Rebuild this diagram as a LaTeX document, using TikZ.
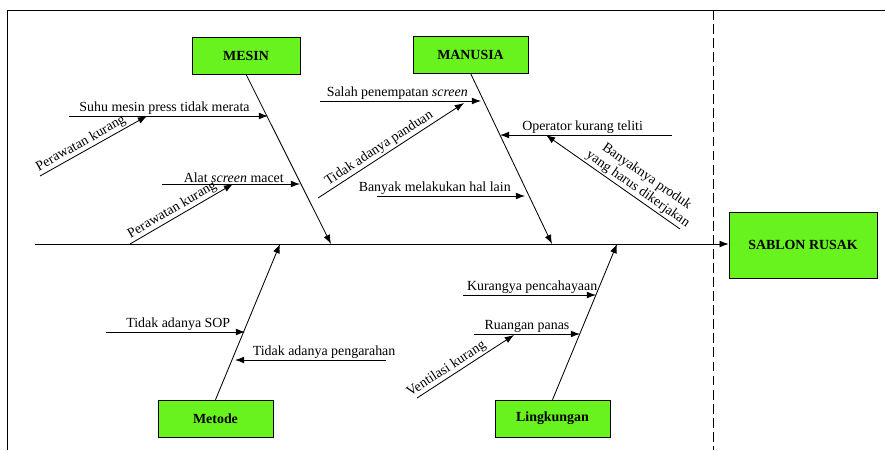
\documentclass[tikz,border=0pt]{standalone}
\usepackage{fontspec}
\setmainfont{Liberation Serif}
\usetikzlibrary{positioning,arrows.meta,calc}
\definecolor{fishgreen}{RGB}{104,242,30}

\begin{document}
\begin{tikzpicture}[
    x=0.025cm, y=0.025cm,
    font=\fontsize{9.9}{11}\selectfont,
    cat/.style={draw, fill=fishgreen, minimum width=28.75mm, minimum height=9.25mm,
                inner sep=0pt, font=\fontsize{9.9}{11}\selectfont\bfseries},
    bone/.style={-{Latex[length=2.3mm,width=1.7mm]}, line width=0.6pt},
    lbl/.style={inner sep=1pt},
]
\useasboundingbox (0,0) rectangle (885,450);
% ---------------- frame and spine ----------------
\draw[line width=0.6pt] (7,0) -- (7,440) -- (885,440);
\draw[line width=0.6pt, dash pattern=on 7pt off 3pt] (713,440) -- (713,0);
\node[cat, minimum width=37mm, minimum height=16.5mm] (effect) at (803,205) {SABLON RUSAK};
\coordinate (tail) at (35,206);
\draw[bone] (tail) -- (tail -| effect.west);

% ---------------- categories ----------------
\node[cat, minimum width=27mm] (mesin) at (246,394.5) {MESIN};
\node[cat] (manusia) at (470.5,395.5) {MANUSIA};
\node[cat] (metode) at (215.5,31.5) {Metode};
\node[cat] (lingkungan) at (552.5,31.5) {Lingkungan};
\coordinate (jmes) at (331,206);
\coordinate (jman) at (552,206);
\coordinate (jmet) at (280,206);
\coordinate (jlin) at (617,206);
\draw[bone] (mesin.south) -- (jmes);
\draw[bone] (manusia.south) -- (jman);
\draw[bone] (metode.north) -- (jmet);
\draw[bone] (lingkungan.north) -- (jlin);

% ---------------- MESIN ----------------
\coordinate (suhu0) at (69,334);   \coordinate (suhu1) at (268,334);
\coordinate (rawa0) at (40,274);   \coordinate (rawa1) at (147,334);
\coordinate (alat0) at (162,266);  \coordinate (alat1) at (300,266);
\coordinate (rawb0) at (130,206);  \coordinate (rawb1) at (233,266);
\draw[bone] (suhu0) -- node[lbl, above, pos=0.48] (suhu) {Suhu mesin press tidak merata} (suhu1);
\draw[bone] (rawa0) -- node[lbl, above, sloped, pos=0.42] (rawa) {Perawatan kurang} (rawa1);
\draw[bone] (alat0) -- node[lbl, above, pos=0.52] (alat) {Alat \textit{screen} macet} (alat1);
\draw[bone] (rawb0) -- node[lbl, above, sloped, pos=0.45] (rawb) {Perawatan kurang} (rawb1);

% ---------------- MANUSIA ----------------
\coordinate (salah0) at (320,349); \coordinate (salah1) at (481,349);
\coordinate (pand0) at (318,252);  \coordinate (pand1) at (464,347);
\coordinate (hal0) at (377,254);   \coordinate (hal1) at (525,254);
\coordinate (oper0) at (672,315);  \coordinate (oper1) at (500,315);
\coordinate (prod0) at (680,221);  \coordinate (prod1) at (546,315);
\draw[bone] (salah0) -- node[lbl, above, pos=0.48] (salah) {Salah penempatan \textit{screen}} (salah1);
\draw[bone] (pand0) -- node[lbl, above, sloped, pos=0.45] (pand) {Tidak adanya panduan} (pand1);
\draw[bone] (hal0) -- node[lbl, above, pos=0.39] (hal) {Banyak melakukan hal lain} (hal1);
\draw[bone] (oper0) -- node[lbl, above, pos=0.52] (oper) {Operator kurang teliti} (oper1);
\draw[bone] (prod0) -- node[lbl, above, sloped, pos=0.35, align=center] (prod) {Banyaknya produk\\yang harus dikerjakan} (prod1);

% ---------------- Metode ----------------
\coordinate (sop0) at (106,118);   \coordinate (sop1) at (245,118);
\coordinate (arah0) at (386,90);   \coordinate (arah1) at (235,90);
\draw[bone] (sop0) -- node[lbl, above, pos=0.52] (sop) {Tidak adanya SOP} (sop1);
\draw[bone] (arah0) -- node[lbl, above, pos=0.41] (arah) {Tidak adanya pengarahan} (arah1);

% ---------------- Lingkungan ----------------
\coordinate (cah0) at (463,155);   \coordinate (cah1) at (596,155);
\coordinate (pan0) at (474,116);   \coordinate (pan1) at (580,116);
\coordinate (ven0) at (417,52);    \coordinate (ven1) at (514,115);
\draw[bone] (cah0) -- node[lbl, above, pos=0.52] (cah) {Kurangya pencahayaan} (cah1);
\draw[bone] (pan0) -- node[lbl, above, pos=0.5] (pan) {Ruangan panas} (pan1);
\draw[bone] (ven0) -- node[lbl, above, sloped, pos=0.35] (ven) {Ventilasi kurang} (ven1);
\end{tikzpicture}
\end{document}
